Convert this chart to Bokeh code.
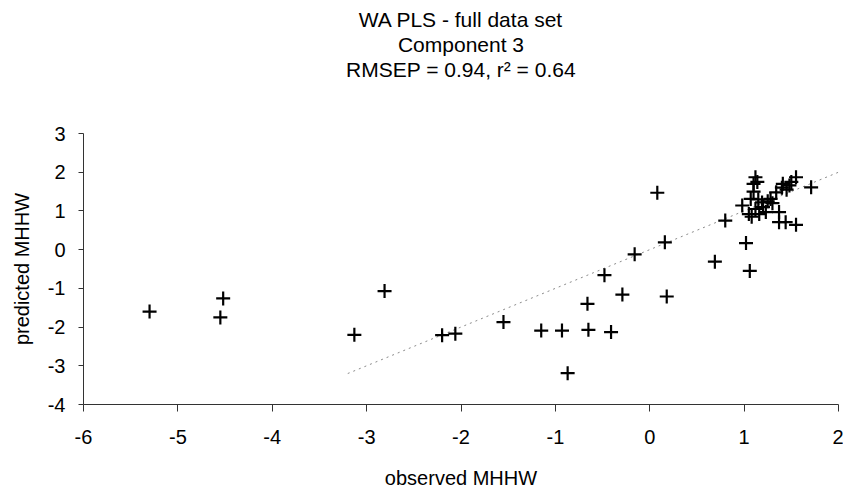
from bokeh.plotting import figure
from bokeh.models import Range1d, FixedTicker, Title
from bokeh.embed import file_html
from bokeh.resources import INLINE

title_lines = ["WA PLS - full data set", "Component 3", "RMSEP = 0.94, r\u00b2 = 0.64"]
x_label = "observed MHHW"
y_label = "predicted MHHW"
x_ticks = [-6, -5, -4, -3, -2, -1, 0, 1, 2]
y_ticks = [-4, -3, -2, -1, 0, 1, 2, 3]

observed = [-5.30, -4.52, -4.55, -3.13, -2.81, -2.20, -2.06, -1.55, -1.15, -0.93,
            -0.87, -0.65, -0.66, -0.41, -0.48, -0.29, -0.16, 0.08, 0.16, 0.18,
            0.69, 0.80, 1.02, 1.06,
            0.98, 1.05, 1.07, 1.10, 1.12, 1.14, 1.16, 1.19, 1.23, 1.28,
            1.34, 1.37, 1.37, 1.41, 1.44, 1.48, 1.55, 1.55, 1.71, 1.10,
            1.15, 1.20, 1.25, 1.30, 1.45, 1.50, 1.40, 1.12, 1.08]
predicted = [-1.60, -1.26, -1.75, -2.20, -1.07, -2.21, -2.17, -1.87, -2.09, -2.09,
             -3.19, -2.07, -1.40, -2.13, -0.66, -1.16, -0.12, 1.47, 0.19, -1.21,
             -0.31, 0.75, 0.17, -0.55,
             1.14, 0.92, 1.31, 1.70, 1.87, 1.75, 0.92, 1.22, 0.97, 1.31,
             1.48, 0.71, 0.97, 1.70, 0.71, 1.66, 1.87, 0.64, 1.61, 1.50,
             1.30, 1.10, 1.25, 1.20, 1.55, 1.75, 1.60, 1.05, 0.85]
fit_x = [-3.2, 2]
fit_y = [-3.2, 2]

FONT = "Liberation Sans"

p = figure(frame_width=755, frame_height=271, output_backend="svg", toolbar_location=None,
           x_range=Range1d(-6, 2), y_range=Range1d(-4, 3),
           min_border_left=83, min_border_right=5, min_border_top=133, min_border_bottom=88,
           background_fill_color="white", border_fill_color="white")
p.outline_line_color = None
p.grid.visible = False

# spacer between the title block and the plot area
p.add_layout(Title(text=" ", text_font=FONT, text_font_size="45px", standoff=0, offset=0), "above")
for t in reversed(title_lines):
    ttl = Title(text=t, align="center", text_font=FONT, text_font_size="21px",
                text_font_style="normal", text_color="black", standoff=0, offset=0)
    p.add_layout(ttl, "above")

p.line(fit_x, fit_y, line_color="#8a8a8a", line_width=1, line_dash="2 4")
p.scatter(observed, predicted, marker="cross", size=14, line_width=2.2, line_color="black")

for ax in (p.xaxis[0], p.yaxis[0]):
    ax.axis_line_color = "#333333"
    ax.major_tick_line_color = "#333333"
    ax.minor_tick_line_color = None
    ax.major_tick_in = 0
    ax.major_label_text_font = FONT
    ax.major_label_text_font_size = "20px"
    ax.major_label_text_color = "black"
    ax.axis_label_text_font = FONT
    ax.axis_label_text_font_size = "20px"
    ax.axis_label_text_font_style = "normal"
    ax.axis_label_text_color = "black"

p.xaxis.ticker = FixedTicker(ticks=x_ticks)
p.yaxis.ticker = FixedTicker(ticks=y_ticks)
p.xaxis.major_label_overrides = {t: str(t) for t in x_ticks}
p.yaxis.major_label_overrides = {t: str(t) for t in y_ticks}
p.xaxis.axis_label = x_label
p.yaxis.axis_label = y_label
p.xaxis.major_tick_out = 7
p.yaxis.major_tick_out = 5
p.xaxis.major_label_standoff = 18
p.yaxis.major_label_standoff = 13
p.xaxis.axis_label_standoff = 20
p.yaxis.axis_label_standoff = 12

open("out.html", "w").write(file_html(p, INLINE))
